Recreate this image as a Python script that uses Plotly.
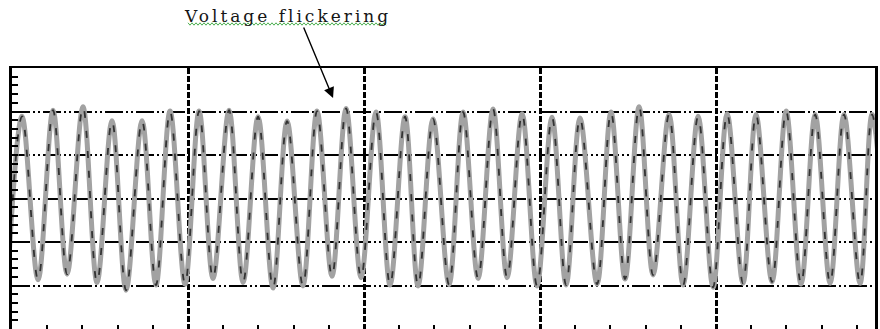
import plotly.graph_objects as go

# ---- data (x in horizontal divisions, y in vertical divisions) ----
peak_x = [0.057, 0.233, 0.403, 0.568, 0.739, 0.898, 1.063, 1.233, 1.398, 1.563,
          1.733, 1.898, 2.068, 2.233, 2.392, 2.563, 2.733, 2.898, 3.068, 3.227,
          3.403, 3.563, 3.733, 3.898, 4.063, 4.227, 4.398, 4.563, 4.727, 4.886]
peak_y = [1.89, 2.03, 2.11, 1.79, 1.79, 2.01, 2.01, 2.03, 1.88, 1.78,
          2.01, 2.07, 1.99, 1.88, 1.83, 1.99, 2.06, 1.95, 1.87, 1.85,
          1.99, 2.11, 1.93, 1.89, 1.95, 1.93, 2.01, 1.93, 1.93, 1.93]
trough_x = [-0.025, 0.148, 0.313, 0.483, 0.648, 0.818, 0.983, 1.142, 1.313, 1.483,
            1.653, 1.818, 1.983, 2.148, 2.307, 2.483, 2.648, 2.813, 2.983, 3.148,
            3.324, 3.483, 3.642, 3.813, 3.983, 4.153, 4.318, 4.483, 4.648, 4.818, 4.975]
trough_y = [-1.90, -1.87, -1.74, -1.93, -2.11, -1.99, -1.97, -1.84, -1.93, -2.06,
            -2.01, -1.79, -1.82, -1.99, -2.01, -1.98, -1.84, -1.82, -2.01, -1.99,
            -1.97, -1.85, -1.76, -1.99, -2.04, -1.95, -1.92, -1.97, -1.95, -1.95, -1.95]

annotation_text = "Voltage flickering"
arrow_target = (1.824, 2.31)

# merge extremes into one ordered waveform
pts = sorted(list(zip(peak_x, peak_y)) + list(zip(trough_x, trough_y)))
wx = [p[0] for p in pts]
wy = [p[1] for p in pts]

fig = go.Figure()
fig.add_trace(go.Scatter(x=wx, y=wy, mode="lines",
                         line=dict(color="#a2a2a2", width=5, shape="spline", smoothing=1),
                         hoverinfo="skip"))
fig.add_trace(go.Scatter(x=wx, y=wy, mode="lines",
                         line=dict(color="#333333", width=1.8, shape="spline", smoothing=1,
                                   dash="7px,13px"),
                         hoverinfo="skip"))

fig.update_layout(
    width=880, height=329,
    margin=dict(l=12, r=5, t=68, b=0),
    paper_bgcolor="white", plot_bgcolor="white",
    showlegend=False,
    xaxis=dict(range=[0, 4.903], tick0=0, dtick=1,
               showgrid=True, gridcolor="black", gridwidth=2.5, griddash="6px,2px",
               zeroline=False, showline=True, linecolor="black", linewidth=2, mirror=True,
               ticks="inside", ticklen=4, tickwidth=1.5, tickcolor="black",
               showticklabels=False,
               minor=dict(dtick=0.2, ticks="inside", ticklen=4, tickwidth=1.5,
                          tickcolor="black", showgrid=False)),
    yaxis=dict(range=[-3, 3], tick0=0, dtick=1,
               showgrid=True, gridcolor="black", gridwidth=1.5,
               griddash="18px,3px,2px,3px,2px,3px",
               zeroline=False, showline=True, linecolor="black", linewidth=3, mirror=True,
               ticks="inside", ticklen=6, tickwidth=1.5, tickcolor="black",
               showticklabels=False,
               minor=dict(dtick=0.2, ticks="inside", ticklen=6, tickwidth=1.5,
                          tickcolor="black", showgrid=False)),
)

# text label
fig.add_annotation(xref="paper", yref="paper", x=(287.5 - 12) / 863, y=(329 - 16) / 261,
                   text='<span style="letter-spacing:3px">' + annotation_text + '</span>',
                   showarrow=False,
                   font=dict(family="DejaVu Serif", size=17, color="#151515"),
                   xanchor="center", yanchor="middle")
# arrow
fig.add_annotation(x=arrow_target[0], y=arrow_target[1], text="", showarrow=True,
                   ax=-30, ay=-72, arrowhead=2, arrowsize=1.5, arrowwidth=1.4,
                   arrowcolor="black")

# spell-check style wavy underline under the label (decoration)
x0, x1, yb = 188, 387, 24
seg = []
px = x0
up = True
while px <= x1:
    py = yb - 1.2 if up else yb + 1.2
    seg.append(((px - 12) / 863, (329 - py) / 261))
    px += 2
    up = not up
path = "M " + " L ".join(f"{a:.5f},{b:.5f}" for a, b in seg)
fig.add_shape(type="path", xref="paper", yref="paper", path=path,
              line=dict(color="#4caf50", width=1))

fig.write_html("out.html",
               config={"displayModeBar": False},
               post_script="document.body.style.margin='0';document.body.style.overflow='hidden';")
